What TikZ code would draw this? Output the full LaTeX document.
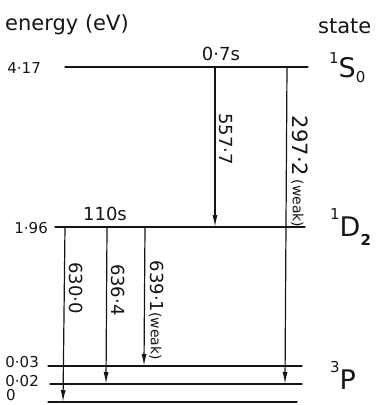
\documentclass[tikz,border=0pt]{standalone}
\usepackage{fontspec}
\setsansfont{DejaVu Sans}
\usetikzlibrary{arrows.meta, positioning}
\definecolor{pen}{HTML}{151515}
\newcommand{\fs}[1]{\fontsize{#1}{#1}\selectfont}
\tikzset{lvl/.style={pen, line width=1.3pt, line cap=round},
  trans/.style={pen, line width=1.2pt, -{Latex[length=12pt,width=5pt]}},
  wl/.style={pen, rotate=-90, anchor=south, inner sep=4pt, font=\sffamily\fs{18}},
  val/.style={pen, anchor=east, inner sep=0pt, font=\sffamily\fs{15}},
  term/.style={pen, anchor=base west, inner sep=0pt, font=\sffamily\fs{27}},
  life/.style={pen, anchor=base, inner sep=0pt, font=\sffamily\fs{18}},
  head/.style={pen, anchor=base west, inner sep=0pt, font=\sffamily\fs{21}}}
\newcommand{\weak}{{\fs{14}(weak)}}

\begin{document}
\begin{tikzpicture}[x=1pt, y=-1pt]
  \useasboundingbox (0,0) rectangle (380,405);
  % energy levels
  \foreach \lv/\y/\xa/\xb in {s/67/65/308, d/227/55/305, pc/366/48/302, pb/384/50/302, pa/402/48/297}{
     \draw[lvl] (\xa,\y) coordinate (\lv-w) -- (\xb,\y) coordinate (\lv-e);}
  % end points of the transitions
  \path (215,67) coordinate (s5577) (215,227) coordinate (d5577)
        (287,67) coordinate (s2972) (285,384) coordinate (p2972)
        (65,227) coordinate (d6300) (63,402) coordinate (p6300)
        (107,227) coordinate (d6364) (106,384) coordinate (p6364)
        (145,227) coordinate (d6391) (144,366) coordinate (p6391);
  \draw[trans] (s5577) -- node[wl, pos=0.45] {557·7} (d5577);
  \draw[trans] (s2972) -- node[wl, pos=0.33] {\fs{21}297·2\,\weak} (p2972);
  \draw[trans] (d6300) -- node[wl, pos=0.35] {630·0} (p6300);
  \draw[trans] (d6364) -- node[wl, pos=0.40] {636·4} (p6364);
  \draw[trans] (d6391) -- node[wl, pos=0.60] {639·1\weak} (p6391);
  % labels
  \node[head] (en) at (5,30) {energy (eV)};
  \node[head] (st) at (318,33) {state};
  \node[life] (t1) at (221,60) {0·7s};
  \node[life] (t2) at (105,220) {110s};
  \node[val] (v1) at (41,68) {4·17};
  \node[val] (v2) at (48,228) {1·96};
  \node[val] (v3) at (39,362) {0·03};
  \node[val] (v4) at (39,381) {0·02};
  \node[val, anchor=south west] (v5) at (6,401) {0};
  \node[term] (S0) at (329,77) {\raisebox{0.5em}{\fs{15}1}S\raisebox{-0.2em}{\fs{15}0}};
  \node[term] (D2) at (330,236) {\raisebox{0.6em}{\fs{15}1}D\raisebox{-0.35em}{\fs{15}\bfseries 2}};
  \node[term] (P) at (330,389) {\raisebox{0.6em}{\fs{15}3}P};
\end{tikzpicture}
\end{document}
